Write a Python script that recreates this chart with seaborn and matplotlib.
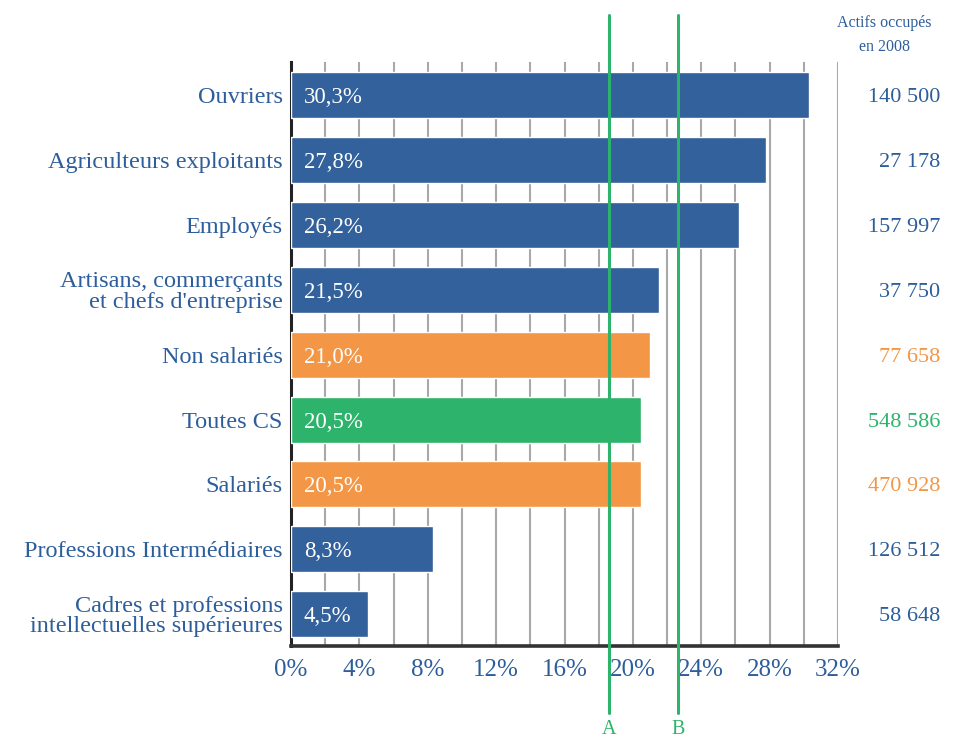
import matplotlib
matplotlib.use("Agg")
import matplotlib.pyplot as plt
import seaborn as sns
import pandas as pd
from matplotlib.transforms import blended_transform_factory

categories = ["Ouvriers", "Agriculteurs exploitants", "Employés",
              "Artisans, commerçants\net chefs d'entreprise", "Non salariés",
              "Toutes CS", "Salariés", "Professions Intermédiaires",
              "Cadres et professions\nintellectuelles supérieures"]
values = [30.3, 27.8, 26.2, 21.5, 21.0, 20.5, 20.5, 8.3, 4.5]
value_labels = ["30,3%", "27,8%", "26,2%", "21,5%", "21,0%", "20,5%", "20,5%", "8,3%", "4,5%"]
actifs = ["140 500", "27 178", "157 997", "37 750", "77 658", "548 586", "470 928", "126 512", "58 648"]
groups = ["cs", "cs", "cs", "cs", "statut", "total", "statut", "cs", "cs"]
x_ticks = [0, 4, 8, 12, 16, 20, 24, 28, 32]
x_ticklabels = ["0%", "4%", "8%", "12%", "16%", "20%", "24%", "28%", "32%"]
ref_lines = {"A": 18.63, "B": 22.64}

BLUE = "#33619B"
ORANGE = "#F39646"
GREEN = "#2DB36B"
TEXT_BLUE = "#2D5E9B"
group_colors = {"cs": BLUE, "statut": ORANGE, "total": GREEN}
text_colors = {"cs": TEXT_BLUE, "statut": ORANGE, "total": GREEN}

sns.set_style("white")
plt.rcParams["font.family"] = ["Liberation Serif", "DejaVu Serif"]

df = pd.DataFrame({"cat": categories, "val": values})
palette = {c: group_colors[g] for c, g in zip(categories, groups)}

fig = plt.figure(figsize=(9.61, 7.40), dpi=100)
ax = fig.add_axes([291 / 961, 1 - 646 / 740, (838 - 291) / 961, (646 - 62) / 740])

sns.barplot(data=df, x="val", y="cat", hue="cat", palette=palette, legend=False,
            orient="h", width=0.71, saturation=1, ax=ax, zorder=3)

ax.set_xlim(0, 32)
ax.set_ylim(8.49, -0.51)
ax.set_axisbelow(True)
ax.set_xticks(x_ticks)
ax.set_xticklabels(x_ticklabels)
ax.set_xticks(range(2, 33, 4), minor=True)
ax.grid(axis="x", which="both", color="#A8A8A8", linewidth=1.5, zorder=0)
ax.tick_params(axis="x", which="both", length=0, pad=9, labelsize=18, labelcolor=TEXT_BLUE)
ax.tick_params(axis="y", length=0, pad=6, labelsize=17.5, labelcolor=TEXT_BLUE)
ax.set_yticks(range(len(categories)))
ax.set_yticklabels(categories, linespacing=0.98, va="center_baseline")
ax.set_xlabel("")
ax.set_ylabel("")

for s in ["top", "right"]:
    ax.spines[s].set_visible(False)
ax.spines["left"].set_color("#222222")
ax.spines["left"].set_linewidth(2.2)
ax.spines["bottom"].set_color("#333333")
ax.spines["bottom"].set_linewidth(2.6)

for i, lab in enumerate(value_labels):
    ax.text(0.75, i, lab, color="white", fontsize=16.5, va="center_baseline", ha="left", zorder=5)

trans = blended_transform_factory(ax.transAxes, ax.transData)
for i, (a, g) in enumerate(zip(actifs, groups)):
    ax.text(1.1875, i, a, color=text_colors[g], fontsize=16, va="center_baseline", ha="right",
            transform=trans, clip_on=False)

ax.text(1.085, (646 - 35) / 584, "Actifs occupés\nen 2008", color=TEXT_BLUE,
        fontsize=11.5, ha="center", va="center", transform=ax.transAxes, linespacing=1.6)

for name, xv in ref_lines.items():
    ax.axvline(xv, ymin=(646 - 713) / 584, ymax=1.08, color=GREEN, linewidth=2.2,
               clip_on=False, zorder=6)
    ax.text(xv, (646 - 729) / 584, name, color=GREEN, fontsize=14.5, ha="center", va="center",
            transform=blended_transform_factory(ax.transData, ax.transAxes))

fig.savefig("out.png", dpi=100)
